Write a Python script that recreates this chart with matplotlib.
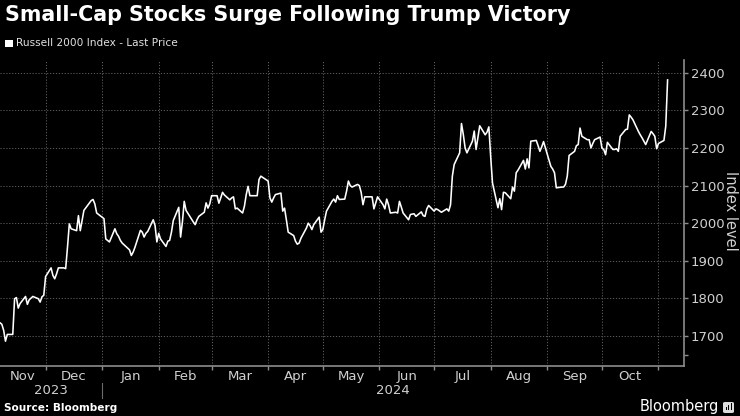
import matplotlib.pyplot as plt
import matplotlib.dates as mdates
from matplotlib.patches import Rectangle, FancyBboxPatch
import pandas as pd
import numpy as np

# Russell 2000 closing levels, one list per month
nov23 = [1735, 1731, 1715, 1686, 1704, 1704, 1799, 1802, 1774, 1786, 1805, 1784, 1796, 1805, 1799, 1790, 1804, 1808]
dec23 = [1858, 1881, 1861, 1852, 1865, 1881, 1881, 1879, 1936, 1998, 1985, 1980, 2020, 1980, 2007, 2034, 2060, 2063, 2051, 2027]
jan24 = [2012, 1958, 1954, 1950, 1985, 1972, 1965, 1954, 1947, 1929, 1914, 1923, 1936, 1981, 1976, 1963, 1973, 1978, 2009, 1994, 1950]
feb24 = [1973, 1958, 1938, 1952, 1954, 1976, 2007, 2042, 1963, 2003, 2058, 2034, 2003, 1996, 2009, 2018, 2029, 2054, 2040, 2051]
mar24 = [2073, 2073, 2053, 2067, 2082, 2075, 2062, 2067, 2070, 2038, 2040, 2027, 2045, 2076, 2098, 2073, 2073, 2073, 2116, 2125]
apr24 = [2112, 2067, 2056, 2067, 2076, 2080, 2032, 2040, 2009, 1976, 1967, 1952, 1944, 1947, 1960, 1987, 2000, 1993, 1983, 1996, 2016, 1976]
may24 = [1983, 2009, 2032, 2058, 2064, 2056, 2073, 2063, 2064, 2085, 2112, 2100, 2096, 2103, 2100, 2082, 2049, 2070, 2070, 2038, 2054, 2070]
jun24 = [2049, 2038, 2064, 2049, 2027, 2029, 2027, 2058, 2043, 2027, 2009, 2023, 2025, 2018, 2030, 2020, 2018, 2038, 2047]
jul24 = [2032, 2038, 2036, 2029, 2038, 2032, 2049, 2125, 2156, 2187, 2265, 2236, 2200, 2187, 2218, 2245, 2196, 2227, 2259, 2235, 2242, 2256]
aug24 = [2178, 2107, 2041, 2065, 2036, 2082, 2081, 2065, 2096, 2085, 2134, 2141, 2167, 2144, 2171, 2147, 2218, 2220, 2206, 2191, 2203, 2217]
sep24 = [2151, 2144, 2134, 2094, 2096, 2096, 2103, 2125, 2180, 2191, 2206, 2209, 2253, 2231, 2222, 2222, 2200, 2212, 2222, 2229]
oct24 = [2200, 2196, 2182, 2215, 2196, 2196, 2198, 2191, 2231, 2249, 2250, 2288, 2282, 2275, 2244, 2235, 2227, 2218, 2209, 2244, 2238, 2231, 2198]
nov24 = [2212, 2220, 2258, 2381]

holidays = ["2023-11-23", "2023-12-25", "2024-01-01", "2024-01-15", "2024-02-19",
            "2024-03-29", "2024-05-27", "2024-06-19", "2024-07-04", "2024-09-02"]
month_labels = ["Nov", "Dec", "Jan", "Feb", "Mar", "Apr", "May", "Jun", "Jul", "Aug", "Sep", "Oct"]
y_ticks = [1700, 1800, 1900, 2000, 2100, 2200, 2300, 2400]

dates = pd.bdate_range("2023-11-06", "2024-11-06", freq="C", holidays=holidays)
values = np.concatenate([nov23, dec23, jan24, feb24, mar24, apr24, may24,
                         jun24, jul24, aug24, sep24, oct24, nov24])
assert len(dates) == len(values), (len(dates), len(values))

W, H = 740, 416
fig = plt.figure(figsize=(W / 100, H / 100), dpi=100, facecolor="black")
ax_l, ax_r, ax_t, ax_b = 0, 684, 60, 366
ax = fig.add_axes([ax_l / W, 1 - ax_b / H, (ax_r - ax_l) / W, (ax_b - ax_t) / H])
ax.set_facecolor("black")
axh = ax_b - ax_t

x0 = pd.Timestamp("2023-11-06")
x1 = pd.Timestamp("2024-11-15")
ax.plot(dates, values, color="white", lw=1.15, solid_joinstyle="round", zorder=3)
ax.set_xlim(x0, x1)
ax.set_ylim(1620, 2434)

grey = "#8c8c8c"
txt = "#d0d0d0"
for s in ["top", "left"]:
    ax.spines[s].set_visible(False)
ax.spines["bottom"].set_color(grey)
ax.spines["right"].set_color(grey)
ax.spines["bottom"].set_linewidth(1.2)
ax.spines["right"].set_linewidth(1.2)

# y axis on the right
ax.yaxis.tick_right()
ax.set_yticks(y_ticks)
ax.set_yticks([1650], minor=True)
ax.tick_params(axis="y", which="both", colors=grey, labelcolor=txt, labelsize=9.5,
               length=3, width=1, direction="out", pad=2)
fig.text(731 / W, 1 - 211 / H, "Index level", color=txt, fontsize=10.5, rotation=270,
         ha="center", va="center")

# x axis: ticks at month starts, labels at mid month
starts = pd.date_range("2023-12-01", "2024-11-01", freq="MS")
ax.set_xticks(starts)
ax.set_xticklabels([])
edges = [x0] + list(starts)
mids = [a + (b - a) / 2 for a, b in zip(edges[:-1], edges[1:])]
ax.set_xticks(mids, minor=True)
ax.set_xticklabels(month_labels, minor=True)
ax.tick_params(axis="x", which="major", colors=grey, length=3, width=1, direction="out")
ax.tick_params(axis="x", which="minor", length=0, labelcolor=txt, labelsize=9.5, pad=3)

ax.grid(True, which="major", color="#5e5e5e", linestyle=(0, (1.2, 1.8)), linewidth=0.7)
ax.set_axisbelow(True)

# year row
tr = ax.get_xaxis_transform()
jan1 = pd.Timestamp("2024-01-01")
ax.text(x0 + (jan1 - x0) / 2, -25 / axh, "2023", transform=tr, ha="center", va="center",
        color=txt, fontsize=9.5)
ax.text(jan1 + (x1 - jan1) / 2, -25 / axh, "2024", transform=tr, ha="center", va="center",
        color=txt, fontsize=9.5)
ax.plot([jan1, jan1], [-17 / axh, -32 / axh], transform=tr, color="#6a6a6a", lw=0.8,
        clip_on=False)

# title, legend, source
fig.text(5 / W, 1 - 21 / H, "Small-Cap Stocks Surge Following Trump Victory", color="white",
         fontsize=14.9, fontweight="bold", ha="left", va="baseline")
fig.patches.append(Rectangle((5 / W, 1 - 47 / H), 7.5 / W, 7.5 / H, transform=fig.transFigure,
                             facecolor="white", edgecolor="none"))
fig.text(16 / W, 1 - 43 / H, "Russell 2000 Index - Last Price", color="#e0e0e0",
         fontsize=7.6, ha="left", va="center")
fig.text(4 / W, 1 - 408 / H, "Source: Bloomberg", color="white", fontsize=7.6,
         fontweight="bold", ha="left", va="center")
fig.text(719 / W, 1 - 407 / H, "Bloomberg", color="white", fontsize=10.5, ha="right",
         va="center")
fig.patches.append(FancyBboxPatch((723 / W, 1 - 413 / H), 11 / W, 11 / H,
                                  boxstyle="round,pad=0,rounding_size=0.003",
                                  transform=fig.transFigure, facecolor="#dddddd",
                                  edgecolor="none"))
for i, h in enumerate([3, 5, 7]):
    fig.patches.append(Rectangle(((725.5 + i * 2.5) / W, 1 - 410 / H), 1.3 / W, h / H,
                                 transform=fig.transFigure, facecolor="black",
                                 edgecolor="none"))

fig.savefig("out.png", dpi=100, facecolor="black")
